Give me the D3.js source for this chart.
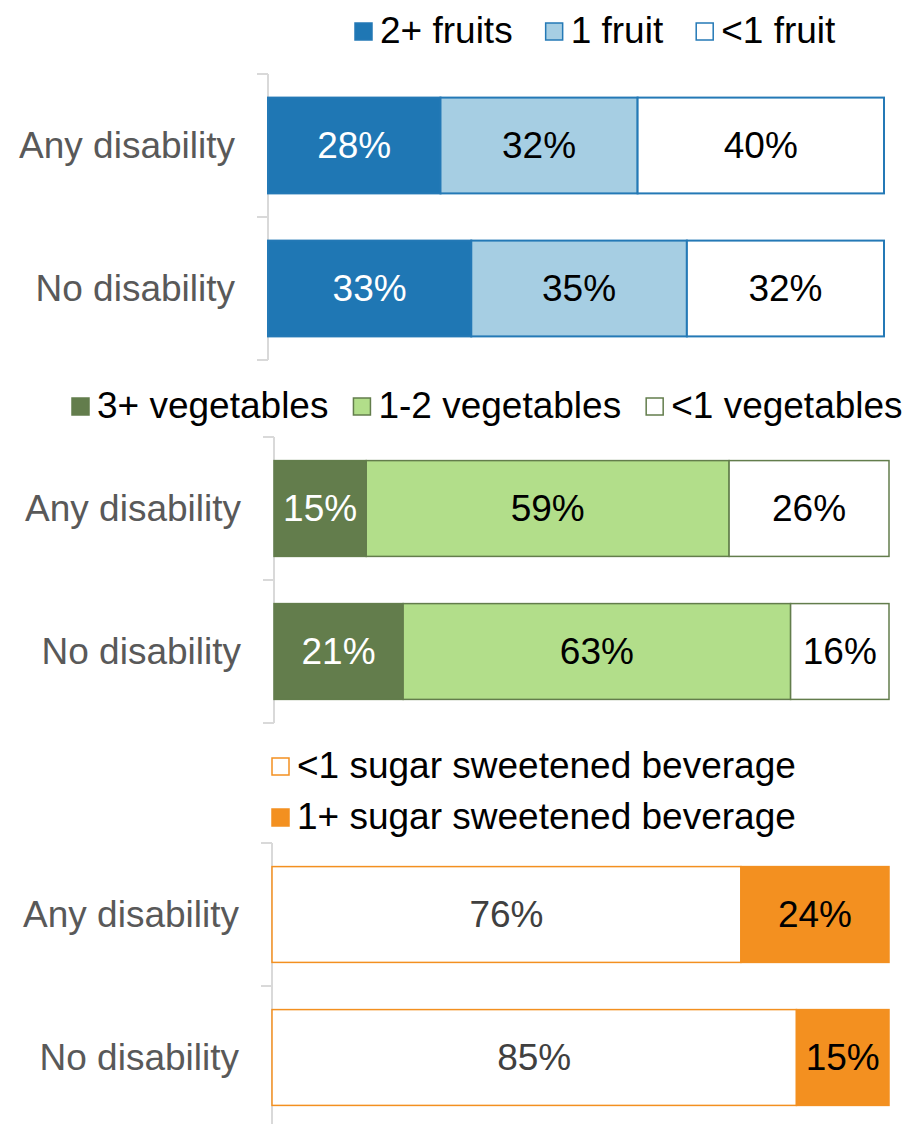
<!DOCTYPE html>
<html>
<head>
<meta charset="utf-8">
<script src="https://cdn.jsdelivr.net/npm/d3@7"></script>
<style>
  html, body { margin: 0; padding: 0; background: #fff; }
  svg text { font-family: "Liberation Sans", Arial, sans-serif; }
</style>
</head>
<body>
<svg id="chart" width="913" height="1124"></svg>
<script>
// Groups compared in every panel
const categories = ["Any disability", "No disability"];

// Daily fruit intake (%)
const fruitKeys = ["2+ fruits", "1 fruit", "<1 fruit"];
const fruit2Plus = [28, 33];
const fruit1 = [32, 35];
const fruitLess1 = [40, 32];

// Daily vegetable intake (%)
const vegKeys = ["3+ vegetables", "1-2 vegetables", "<1 vegetables"];
const veg3Plus = [15, 21];
const veg1to2 = [59, 63];
const vegLess1 = [26, 16];

// Daily sugar sweetened beverage intake (%)
const ssbKeys = ["<1 sugar sweetened beverage", "1+ sugar sweetened beverage"];
const ssbLess1 = [76, 85];
const ssb1Plus = [24, 15];

const svg = d3.select("#chart");
const FONT = 37;

function drawPanel(cfg) {
  const rows = categories.map((c, i) => {
    const r = { category: c };
    cfg.keys.forEach((k, j) => { r[k] = cfg.series[j][i]; });
    return r;
  });
  const stacked = d3.stack().keys(cfg.keys)(rows);

  const x = d3.scaleLinear().domain([0, 100]).range([cfg.x0, cfg.x1]);
  const y = d3.scaleBand().domain(categories)
    .range([cfg.top, cfg.top + cfg.height])
    .paddingInner(0.33).paddingOuter(0.165);

  const g = svg.append("g");

  // category axis: vertical rule with outward ticks at band edges
  const step = y.step();
  const edges = d3.range(categories.length + 1).map(i => cfg.top + i * step);
  g.append("line")
    .attr("x1", cfg.x0).attr("x2", cfg.x0)
    .attr("y1", edges[0]).attr("y2", edges[edges.length - 1])
    .attr("stroke", "#d9d9d9").attr("stroke-width", 2);
  g.selectAll(".tick").data(edges).join("line")
    .attr("x1", cfg.x0 - 11).attr("x2", cfg.x0)
    .attr("y1", d => d).attr("y2", d => d)
    .attr("stroke", "#d9d9d9").attr("stroke-width", 2);

  g.selectAll(".cat").data(categories).join("text")
    .attr("x", cfg.x0 - 33)
    .attr("y", d => y(d) + y.bandwidth() / 2)
    .attr("dy", "0.35em")
    .attr("text-anchor", "end")
    .attr("font-size", FONT)
    .attr("fill", "#595959")
    .text(d => d);

  // stacked segments
  stacked.forEach((layer, j) => {
    const sg = g.append("g");
    sg.selectAll("rect").data(layer).join("rect")
      .attr("x", d => x(d[0]))
      .attr("y", d => y(d.data.category))
      .attr("width", d => x(d[1]) - x(d[0]))
      .attr("height", y.bandwidth())
      .attr("fill", cfg.fills[j])
      .attr("stroke", cfg.stroke)
      .attr("stroke-width", cfg.strokeWidth);
    sg.selectAll("text").data(layer).join("text")
      .attr("x", d => (x(d[0]) + x(d[1])) / 2)
      .attr("y", d => y(d.data.category) + y.bandwidth() / 2)
      .attr("dy", "0.35em")
      .attr("text-anchor", "middle")
      .attr("font-size", FONT)
      .attr("fill", cfg.labelColors[j])
      .text(d => (d[1] - d[0]) + "%");
  });

  // legend
  cfg.legendRows.forEach(row => {
    let cx = row.x;
    row.items.forEach(j => {
      const sq = 19;
      g.append("rect")
        .attr("x", cx + 1).attr("y", row.baseline - sq - 1)
        .attr("width", sq - 2).attr("height", sq - 2)
        .attr("fill", cfg.fills[j])
        .attr("stroke", cfg.stroke).attr("stroke-width", 1.5);
      const t = g.append("text")
        .attr("x", cx + sq + 7).attr("y", row.baseline)
        .attr("font-size", FONT)
        .attr("fill", "#000")
        .text(cfg.keys[j]);
      cx += sq + 7 + t.node().getComputedTextLength() + row.gap;
    });
  });
}

drawPanel({
  keys: fruitKeys,
  series: [fruit2Plus, fruit1, fruitLess1],
  fills: ["#1f77b4", "#a6cee3", "#ffffff"],
  stroke: "#2479b6",
  strokeWidth: 2,
  labelColors: ["#ffffff", "#000000", "#000000"],
  x0: 268, x1: 884, top: 74, height: 286,
  legendRows: [{ x: 354, baseline: 43, gap: 32, items: [0, 1, 2] }]
});

drawPanel({
  keys: vegKeys,
  series: [veg3Plus, veg1to2, vegLess1],
  fills: ["#637d4c", "#b2de8a", "#ffffff"],
  stroke: "#637d4c",
  strokeWidth: 1.5,
  labelColors: ["#ffffff", "#000000", "#000000"],
  x0: 274, x1: 889, top: 437, height: 286,
  legendRows: [{ x: 71, baseline: 418, gap: 24, items: [0, 1, 2] }]
});

drawPanel({
  keys: ssbKeys,
  series: [ssbLess1, ssb1Plus],
  fills: ["#ffffff", "#f39020"],
  stroke: "#f39020",
  strokeWidth: 1.5,
  labelColors: ["#404040", "#000000"],
  x0: 272, x1: 889, top: 843, height: 286,
  legendRows: [
    { x: 271, baseline: 778, gap: 20, items: [0] },
    { x: 271, baseline: 829, gap: 20, items: [1] }
  ]
});
</script>
</body>
</html>
